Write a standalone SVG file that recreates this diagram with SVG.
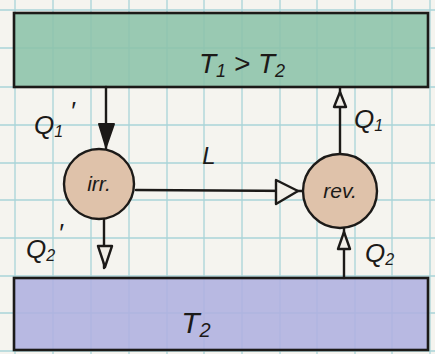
<svg xmlns="http://www.w3.org/2000/svg" width="435" height="354" viewBox="0 0 435 354">
<defs>
<style>
.grid line{stroke:#a8d4d8;stroke-width:1.3}
.edge{stroke:#1c1a18;stroke-width:2.4;fill:none;stroke-linecap:round}
.box{stroke:#1c1a18;stroke-width:2.6}
.node{stroke:#1c1a18;stroke-width:2.4;fill:#dfc2aa}
.lbl{font-family:"Liberation Sans",Arial,sans-serif;fill:#1c1a18;font-style:italic}
.open{fill:#f2efe8;stroke:#1c1a18;stroke-width:2.4;stroke-linejoin:round}
.solid{fill:#1c1a18;stroke:#1c1a18;stroke-width:2;stroke-linejoin:round}
</style>
</defs>
<rect width="435" height="354" fill="#f5f4ef"/>
<g class="grid">
<line x1="15" y1="0" x2="15" y2="354"/><line x1="53" y1="0" x2="53" y2="354"/><line x1="91" y1="0" x2="91" y2="354"/><line x1="129" y1="0" x2="129" y2="354"/><line x1="167" y1="0" x2="167" y2="354"/><line x1="204" y1="0" x2="204" y2="354"/><line x1="242" y1="0" x2="242" y2="354"/><line x1="280" y1="0" x2="280" y2="354"/><line x1="317" y1="0" x2="317" y2="354"/><line x1="355" y1="0" x2="355" y2="354"/><line x1="392" y1="0" x2="392" y2="354"/><line x1="430" y1="0" x2="430" y2="354"/>
<line x1="0" y1="10" x2="435" y2="10"/><line x1="0" y1="48" x2="435" y2="48"/><line x1="0" y1="87" x2="435" y2="87"/><line x1="0" y1="125" x2="435" y2="125"/><line x1="0" y1="163" x2="435" y2="163"/><line x1="0" y1="200" x2="435" y2="200"/><line x1="0" y1="238" x2="435" y2="238"/><line x1="0" y1="276" x2="435" y2="276"/><line x1="0" y1="313" x2="435" y2="313"/><line x1="0" y1="351" x2="435" y2="351"/>
</g>
<g id="hot">
<rect class="box" x="14" y="13" width="414" height="74" fill="#8cc3aa" fill-opacity="0.88"/>
<text class="lbl" x="242" y="73" font-size="28" text-anchor="middle">T<tspan font-size="18" dy="4">1</tspan><tspan dy="-4"> &gt; T</tspan><tspan font-size="18" dy="4">2</tspan></text>
</g>
<g id="cold">
<rect class="box" x="14" y="278" width="414" height="72" fill="#afb0e0" fill-opacity="0.88"/>
<text class="lbl" x="196" y="333" font-size="30" text-anchor="middle">T<tspan font-size="20" dy="4">2</tspan></text>
</g>
<g id="edges">
<line class="edge" x1="106" y1="87" x2="106" y2="150"/>
<polygon class="solid" points="99,124 114,124 106,147"/>
<line class="edge" x1="104" y1="218" x2="104" y2="268"/>
<polygon class="open" points="98,246 112,246 105,267"/>
<line class="edge" x1="136" y1="190" x2="302" y2="191"/>
<polygon class="open" points="276,180 276,204 298,191"/>
<line class="edge" x1="340" y1="155" x2="340" y2="88"/>
<polygon class="open" points="334,107 346,107 340,92"/>
<line class="edge" x1="344" y1="278" x2="344" y2="228"/>
<polygon class="open" points="338,249 350,249 344,232"/>
<text class="lbl" x="209" y="164" font-size="24" text-anchor="middle">L</text>
<text class="lbl" x="34" y="134" font-size="26">Q<tspan font-size="16" dy="3">1</tspan></text>
<text class="lbl" x="70" y="120" font-size="26">′</text>
<text class="lbl" x="26" y="258" font-size="26">Q<tspan font-size="16" dy="3">2</tspan></text>
<text class="lbl" x="58" y="242" font-size="26">′</text>
<text class="lbl" x="354" y="128" font-size="26">Q<tspan font-size="16" dy="3">1</tspan></text>
<text class="lbl" x="365" y="262" font-size="26">Q<tspan font-size="16" dy="3">2</tspan></text>
</g>
<g id="irr">
<circle class="node" cx="99" cy="184" r="35"/>
<text class="lbl" x="99" y="191" font-size="21" text-anchor="middle">irr.</text>
</g>
<g id="rev">
<circle class="node" cx="340" cy="191" r="37"/>
<text class="lbl" x="340" y="198" font-size="21" text-anchor="middle">rev.</text>
</g>
</svg>
